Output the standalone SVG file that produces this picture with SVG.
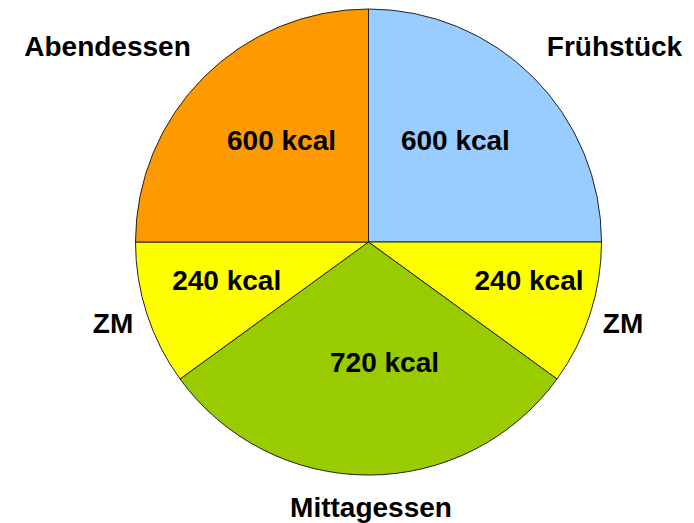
<svg xmlns="http://www.w3.org/2000/svg" width="694" height="523" viewBox="0 0 694 523">
<style>
.s{stroke:#222;stroke-width:1;stroke-linejoin:round}
.t{font-family:"Liberation Sans",Arial,sans-serif;font-weight:bold;font-size:28px;fill:#000;text-anchor:middle}
</style>
<rect width="694" height="523" fill="#fff"/>
<g id="fruehstueck">
<path class="s" d="M368.5,242 L368.5,9 A233,233 0 0 1 601.5,242 Z" fill="#99CCFF"/>
<text class="t" x="455.4" y="150">600 kcal</text>
<text class="t" x="614.5" y="56">Frühstück</text>
</g>
<g id="zm-rechts">
<path class="s" d="M368.5,242 L601.5,242 A233,233 0 0 1 557,379 Z" fill="#FFFF00"/>
<text class="t" x="529" y="290">240 kcal</text>
<text class="t" x="623" y="333">ZM</text>
</g>
<g id="mittagessen">
<path class="s" d="M368.5,242 L557,379 A233,233 0 0 1 180,379 Z" fill="#99CC00"/>
<text class="t" x="384.5" y="372">720 kcal</text>
<text class="t" x="371" y="517">Mittagessen</text>
</g>
<g id="zm-links">
<path class="s" d="M368.5,242 L180,379 A233,233 0 0 1 135.5,242 Z" fill="#FFFF00"/>
<text class="t" x="226.7" y="290">240 kcal</text>
<text class="t" x="113" y="333">ZM</text>
</g>
<g id="abendessen">
<path class="s" d="M368.5,242 L135.5,242 A233,233 0 0 1 368.5,9 Z" fill="#FF9900"/>
<text class="t" x="281.5" y="150">600 kcal</text>
<text class="t" x="107.5" y="56">Abendessen</text>
</g>
<g id="connectors"/>
</svg>
